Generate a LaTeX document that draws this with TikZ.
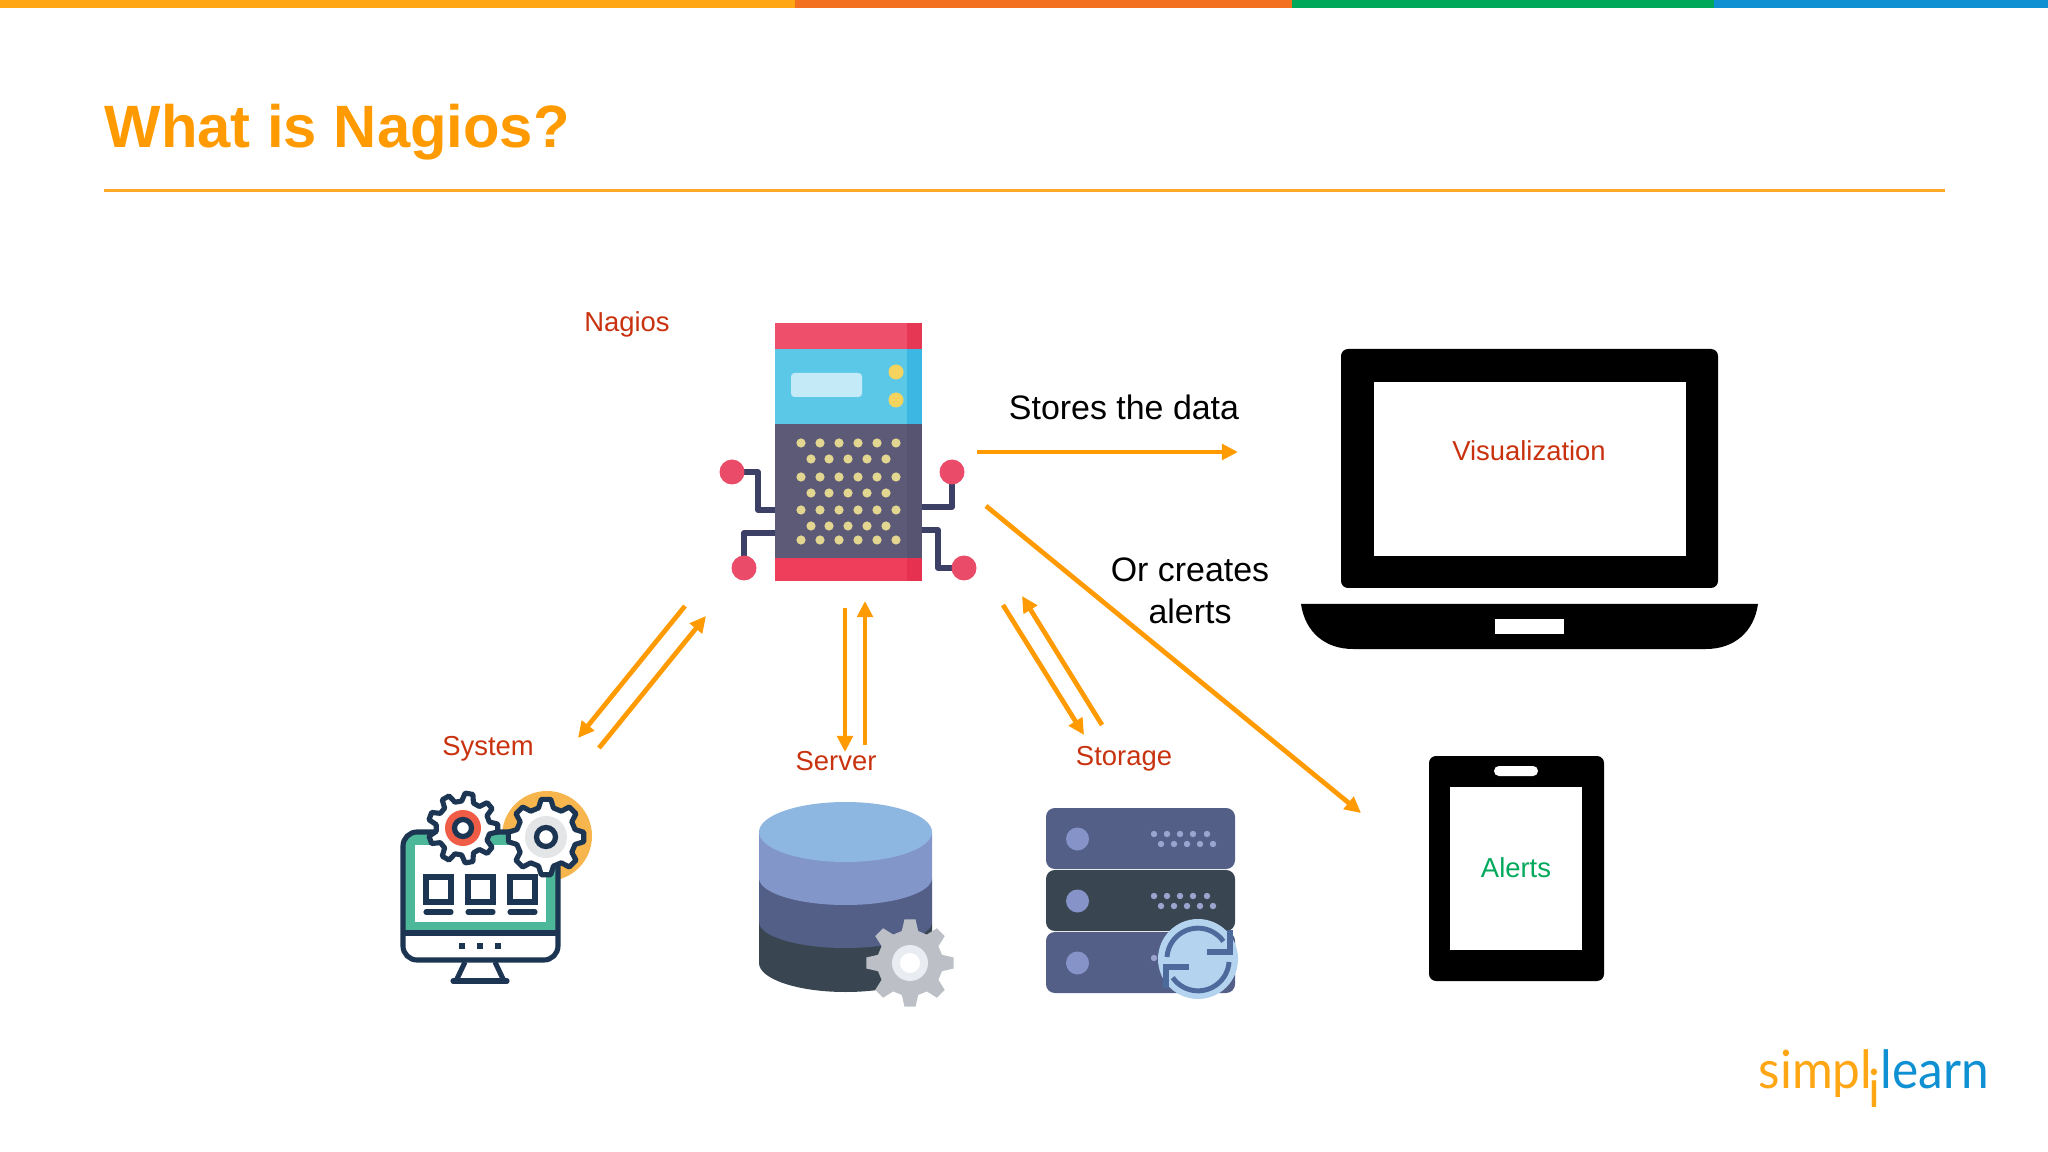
\documentclass[tikz,border=0pt]{standalone}
\usepackage{fontspec}
\setmainfont{Liberation Sans}
\newfontfamily\logofont{Lato}
\usetikzlibrary{arrows.meta}

\definecolor{barorange}{HTML}{FFA614}
\definecolor{barred}{HTML}{F37021}
\definecolor{bargreen}{HTML}{00A85A}
\definecolor{barblue}{HTML}{0E90D2}
\definecolor{titleorange}{HTML}{FF9A00}
\definecolor{labelred}{HTML}{C8320F}
\definecolor{labelgreen}{HTML}{00A95C}
\definecolor{navy}{HTML}{1C3553}
\definecolor{slatedark}{HTML}{394652}
\definecolor{slate}{HTML}{535F87}
\definecolor{peri}{HTML}{8593C9}

\tikzset{
  redlabel/.style={text=labelred,font=\fontsize{7.8}{9.3}\selectfont},
  blacklabel/.style={text=black,align=center,font=\fontsize{9.65}{11.9}\selectfont},
  flow/.style={draw=titleorange,line width=1.35pt,-{Triangle[length=4.6pt,width=4.4pt]}},
  navyline/.style={draw=navy,line width=1.45pt},
  logotext/.style={inner sep=0pt,xscale=0.94,font=\logofont\fontsize{15}{18}\selectfont},
  pics/cog/.style n args={4}{code={
    \path[#4] (360/#3-0.32*360/#3:#2) \foreach \k in {1,...,#3} {
      -- ({\k*360/#3-0.32*360/#3}:#2) -- ({\k*360/#3-0.16*360/#3}:#1)
      -- ({\k*360/#3+0.16*360/#3}:#1) -- ({\k*360/#3+0.32*360/#3}:#2)
    } -- cycle;
  }}
}

\begin{document}
\begin{tikzpicture}[x=0.01cm,y=-0.01cm]
\useasboundingbox (0,0) rectangle (2048,1152);

% Top colour bar
\foreach \a/\b/\c in {0/795/barorange,795/1292/barred,1292/1714/bargreen,1714/2048/barblue} {
    \fill[\c] (\a,0) rectangle (\b,8);
}

% Title and rule
\node[anchor=base west,inner sep=0pt,text=titleorange,font=\fontsize{17}{20}\bfseries\selectfont] (title) at (104,148) {What is Nagios?};
\draw[titleorange!85!white,line width=0.6pt] (104,190.5) -- (1945,190.5);

% Nagios machine, traces first
\foreach \p in {{(732,472) -- (758,472) -- (758,510) -- (775,510)},
                {(744,568) -- (744,533) -- (775,533)},
                {(952,472) -- (952,507) -- (922,507)},
                {(964,568) -- (938,568) -- (938,530) -- (922,530)}} {
    \draw[color={rgb,255:red,61;green,64;blue,102},line width=1.5pt,line join=round] \p;
}
\foreach \x/\y in {732/472,744/568,952/472,964/568} {
    \fill[color={rgb,255:red,233;green,75;blue,104}] (\x,\y) circle (12.5);
}
\fill[color={rgb,255:red,238;green,79;blue,107}] (775,323) rectangle (922,349);
\fill[color={rgb,255:red,92;green,200;blue,232}] (775,349) rectangle (922,424);
\fill[color={rgb,255:red,93;green,90;blue,120}] (775,424) rectangle (922,558);
\fill[color={rgb,255:red,238;green,62;blue,92}] (775,558) rectangle (922,581);
\fill[color={rgb,255:red,230;green,55;blue,85}] (907,323) rectangle (922,349);
\fill[color={rgb,255:red,60;green,182;blue,226}] (907,349) rectangle (922,424);
\fill[color={rgb,255:red,86;green,84;blue,112}] (907,424) rectangle (922,558);
\fill[color={rgb,255:red,230;green,50;blue,80}] (907,558) rectangle (922,581);
\fill[color={rgb,255:red,196;green,234;blue,248},rounded corners=1pt] (791,373) rectangle (862,397);
\foreach \y in {372,400} {
    \fill[color={rgb,255:red,244;green,211;blue,94}] (896,\y) circle (7.5);
}
\foreach \y in {443,477,510,540} {
    \foreach \x in {801,820,839,858,877,896} {
        \fill[color={rgb,255:red,226;green,214;blue,145}] (\x,\y) circle (4.6);
    }
}
\foreach \y in {459,493,526} {
    \foreach \x in {811,829,848,867,886} {
        \fill[color={rgb,255:red,226;green,214;blue,145}] (\x,\y) circle (4.6);
    }
}

% System monitor with two cogs
\fill[color={rgb,255:red,247;green,181;blue,78}] (547,836) circle (45);
\fill[color={rgb,255:red,77;green,184;blue,153},rounded corners=4pt] (403,832) rectangle (558,960);
\fill[white] (415,845) rectangle (546,922);
\fill[white] (403,933) {[rounded corners=4pt] -- (403,960) -- (558,960)} -- (558,933) -- cycle;
\draw[navyline,rounded corners=4pt] (403,832) rectangle (558,960);
\draw[navyline] (403,933) -- (558,933);
\foreach \x in {426,468,510} {
    \draw[navyline] (\x,877) rectangle (\x+25,902);
    \draw[navyline,line cap=round] (\x,912) -- (\x+25,912);
}
\foreach \x in {462,480,498} {
    \fill[navy] (\x-3,943) rectangle (\x+3,949);
}
\draw[navyline,line join=round] (465,962) -- (456,981);
\draw[navyline,line join=round] (495,962) -- (504,981);
\draw[navyline,line cap=round] (453,981) -- (507,981);
\pic at (463,828) {cog={35}{27}{9}{fill=white,navyline,line join=round}};
\fill[color={rgb,255:red,240;green,93;blue,71}] (463,828) circle (18);
\draw[navyline,line width=1.5pt,fill=white] (463,828) circle (8.5);
\pic at (546,837) {cog={38}{30}{8}{fill=white,navyline,line join=round}};
\fill[color={rgb,255:red,227;green,229;blue,231}] (546,837) circle (21);
\draw[navyline,line width=1.5pt,fill=white] (546,837) circle (9.5);

% Server cylinder, stacked from the bottom
\foreach \top/\bot/\ry/\c in {922/963/29/slatedark,878/922/26/slate,832/878/27/{rgb,255:red,131;green,150;blue,202}} {
    \fill[color=\c] (759,\top) -- (759,\bot) arc[start angle=180,end angle=0,x radius=86.5,y radius=\ry] -- (932,\top) -- cycle;
}
\fill[color={rgb,255:red,141;green,182;blue,224}] (845.5,832) ellipse (86.5 and 30);
\pic at (910,963) {cog={44}{33}{8}{fill={rgb,255:red,188;green,192;blue,198}}};
\fill[color={rgb,255:red,233;green,236;blue,240}] (910,963) circle (18);
\fill[white] (910,963) circle (10);

% Storage rack
\foreach \y/\c in {808/slate,870/slatedark,932/slate} {
    \fill[\c,rounded corners=2.5pt] (1046,\y) rectangle (1235,\y+61);
    \fill[peri] (1077.5,\y+31) circle (11.5);
}
\foreach \y in {808,870} {
    \foreach \x in {1154,1167,1180,1193,1207} {
        \fill[color={rgb,255:red,154;green,164;blue,207}] (\x,\y+26) circle (3.2);
    }
    \foreach \x in {1161,1174,1187,1200,1213} {
        \fill[color={rgb,255:red,154;green,164;blue,207}] (\x,\y+36) circle (3.2);
    }
}
\fill[color={rgb,255:red,154;green,164;blue,207}] (1154,958) circle (3.2);
\fill[color={rgb,255:red,179;green,211;blue,238}] (1198,959) circle (40);
\draw[color={rgb,255:red,76;green,106;blue,155},line width=1.4pt] (1167,957) arc[start angle=184,end angle=325,radius=31];
\draw[color={rgb,255:red,76;green,106;blue,155},line width=1.4pt] (1229,962) arc[start angle=4,end angle=145,radius=31];
\draw[color={rgb,255:red,76;green,106;blue,155},line width=1.5pt] (1207,952) -- (1230,952) -- (1230,930);
\draw[color={rgb,255:red,76;green,106;blue,155},line width=1.5pt] (1189,967) -- (1166,967) -- (1166,988);

% Laptop
\fill[black,rounded corners=2pt] (1341,349) rectangle (1718,588);
\fill[white] (1374,382) rectangle (1686,556);
\fill[black] (1301,604) .. controls (1305,632) and (1325,649) .. (1353,649) -- (1706,649) .. controls (1734,649) and (1754,632) .. (1758,604) -- cycle;
\fill[white] (1495,619) rectangle (1564,634);

% Tablet
\fill[black,rounded corners=2pt] (1429,756) rectangle (1604,981);
\fill[white] (1450,787) rectangle (1582,950);
\fill[white,rounded corners=1.4pt] (1494,766) rectangle (1538,776);

% Labels
\node[redlabel] (nagios) at (627,324) {Nagios};
\node[redlabel] (visualization) at (1529,451) {Visualization};
\node[redlabel,text=labelgreen] (alerts) at (1516,868) {Alerts};
\node[redlabel] (system) at (488,749) {System};
\node[redlabel] (server) at (836,761) {Server};
\node[redlabel] (storage) at (1124,759) {Storage};
\node[blacklabel] (stores) at (1124,407) {Stores the data};
\node[blacklabel] (creates) at (1190,591) {Or creates\\alerts};

% Arrow ends
\coordinate (sysdownA) at (685,606);
\coordinate (sysdownB) at (578,738);
\coordinate (sysupA) at (599,748);
\coordinate (sysupB) at (706,616);
\coordinate (serverdownA) at (845,608);
\coordinate (serverdownB) at (845,752);
\coordinate (serverupA) at (865,745);
\coordinate (serverupB) at (865,601);
\coordinate (storedownA) at (1003,605);
\coordinate (storedownB) at (1084,735);
\coordinate (storeupA) at (1102,725);
\coordinate (storeupB) at (1022,596);
\coordinate (dataA) at (977,452);
\coordinate (dataB) at (1238,452);
\coordinate (alertA) at (986,506);
\coordinate (alertB) at (1361,813);

\foreach \a/\b in {sysdownA/sysdownB,sysupA/sysupB,serverdownA/serverdownB,serverupA/serverupB,
                   storedownA/storedownB,storeupA/storeupB,dataA/dataB,alertA/alertB} {
    \draw[flow] (\a) -- (\b);
}

% Logo
\node[logotext,anchor=base west,text=barorange] (logoA) at (1758,1088) {simpl};
\node[logotext,anchor=base,text=barorange] (logoB) at (1874,1107) {i};
\node[logotext,anchor=base west,text=barblue] (logoC) at (1880,1088) {learn};
\end{tikzpicture}
\end{document}
